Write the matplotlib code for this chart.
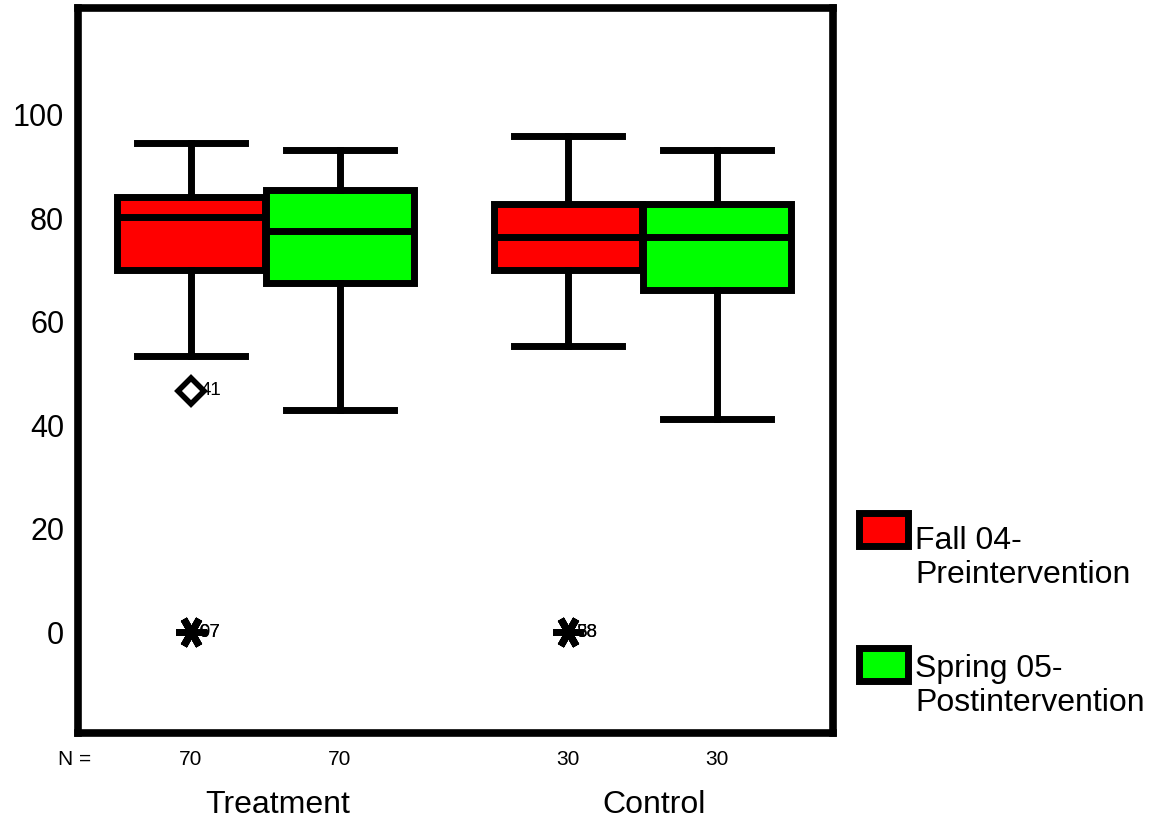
import matplotlib.pyplot as plt
from matplotlib.patches import Rectangle

plt.rcParams['font.family'] = ['Liberation Sans', 'DejaVu Sans']

groups = ['Treatment', 'Control']
periods = ['Fall 04-\nPreintervention', 'Spring 05-\nPostintervention']
colors = ['#ff0000', '#00ff00']
n_counts = [70, 70, 30, 30]

# boxes in order: Treatment Fall, Treatment Spring, Control Fall, Control Spring
whisker_lo = [53.3, 42.9, 55.4, 41.3]
q1 = [69.9, 67.4, 69.9, 66.1]
medians = [80.2, 77.5, 76.4, 76.4]
q3 = [84.1, 85.4, 82.8, 82.8]
whisker_hi = [94.5, 93.1, 95.8, 93.1]

# outliers (diamond) and extremes (asterisk): box index, value, case label
outlier_box = [0]
outlier_val = [46.7]
outlier_lbl = ['41']
extreme_box = [0, 0, 2, 2]
extreme_val = [0, 0, 0, 0]
extreme_lbl = ['67', '97', '38', '58']

LW = 5.0

def build_stats():
    stats = []
    for i in range(len(medians)):
        stats.append({'med': medians[i], 'q1': q1[i], 'q3': q3[i],
                      'whislo': whisker_lo[i], 'whishi': whisker_hi[i],
                      'fliers': []})
    return stats

def main():
    fig = plt.figure(figsize=(11.63, 8.26), dpi=100)
    ax = fig.add_axes([0.0671, 0.1126, 0.6492, 0.8777])

    group_centers = [0.5, 3.03]
    positions = []
    for c in group_centers:
        positions += [c - 0.5, c + 0.5]

    bp = ax.bxp(build_stats(), positions=positions, widths=0.99, capwidths=0.72,
                patch_artist=True, showfliers=False, manage_ticks=False,
                boxprops=dict(linewidth=LW, edgecolor='black'),
                medianprops=dict(color='black', linewidth=LW, solid_capstyle='butt'),
                whiskerprops=dict(color='black', linewidth=LW),
                capprops=dict(color='black', linewidth=LW))
    for i, box in enumerate(bp['boxes']):
        box.set_facecolor(colors[i % 2])

    for b, v, lbl in zip(outlier_box, outlier_val, outlier_lbl):
        ax.plot(positions[b], v, marker='D', mfc='white', mec='black', ms=13, mew=4)
        ax.annotate(lbl, (positions[b], v), xytext=(7, 0), textcoords='offset points',
                    va='center', fontsize=13.5)
    for b, v, lbl in zip(extreme_box, extreme_val, extreme_lbl):
        ax.plot(positions[b], v, marker=(6, 2, 90), color='black', ms=22, mew=5)
        ax.annotate(lbl, (positions[b], v), xytext=(6, 0), textcoords='offset points',
                    va='center', fontsize=13.5)

    ax.set_xlim(-0.758, 4.309)
    ax.set_ylim(-19.42, 120.58)
    ax.set_yticks([0, 20, 40, 60, 80, 100])
    ax.set_xticks([])
    ax.tick_params(axis='y', length=0, pad=10, labelsize=22)
    for s in ax.spines.values():
        s.set_linewidth(5.5)

    tr = ax.get_xaxis_transform()
    ax.text(-0.78, -0.037, 'N =', transform=tr, ha='center', va='center', fontsize=15, clip_on=False)
    for p, n in zip(positions, n_counts):
        ax.text(p, -0.037, str(n), transform=tr, ha='center', va='center', fontsize=15)
    for c, g in zip(group_centers, groups):
        ax.text(c + 0.08, -0.1, g, transform=tr, ha='center', va='center', fontsize=23)

    # legend drawn by hand at the right
    rect_y = [0.339, 0.1755]
    text_y = [0.3638, 0.2088]
    for col, lbl, ry, ty in zip(colors, periods, rect_y, text_y):
        fig.add_artist(Rectangle((0.7386, ry), 0.0421, 0.040, transform=fig.transFigure,
                                 facecolor=col, edgecolor='black', linewidth=LW))
        fig.text(0.787, ty, lbl, ha='left', va='top', fontsize=23)

    fig.savefig('out.png', dpi=100)

if __name__ == "__main__":
    main()
